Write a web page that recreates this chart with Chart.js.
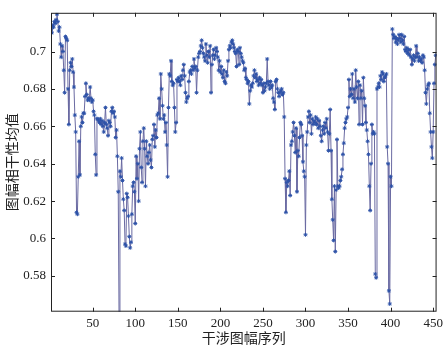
<!DOCTYPE html>
<html>
<head>
<meta charset="utf-8">
<script src="https://cdn.jsdelivr.net/npm/chart.js@4.4.1/dist/chart.umd.min.js"></script>
<style>
  html, body { margin: 0; padding: 0; background: #fff; }
  #wrap { width: 447px; height: 347px; }
</style>
</head>
<body>
<div id="wrap"><canvas id="coherenceChart" width="447" height="347"></canvas></div>
<script>
// --- DATA ---
// mean coherence for each interferogram (index 1..453)
const coherence = [
  0.712, 0.710, 0.714, 0.713, 0.716, 0.715, 0.717, 0.720, 0.716, 0.711,
  0.713, 0.704, 0.697, 0.703, 0.700, 0.690, 0.678, 0.708, 0.707, 0.706,
  0.680, 0.661, 0.690, 0.694, 0.692, 0.696, 0.689, 0.681, 0.666, 0.657,
  0.614, 0.613, 0.633, 0.652, 0.634, 0.660, 0.665, 0.662, 0.667, 0.667,
  0.676, 0.683, 0.677, 0.674, 0.675, 0.674, 0.681, 0.675, 0.673, 0.674,
  0.668, 0.666, 0.645, 0.634, 0.664, 0.664, 0.663, 0.662, 0.664, 0.661,
  0.663, 0.660, 0.657, 0.662, 0.670, 0.661, 0.659, 0.655, 0.663, 0.662,
  0.660, 0.668, 0.670, 0.667, 0.668, 0.665, 0.654, 0.658, 0.644, 0.625,
  0.555, 0.636, 0.633, 0.643, 0.631, 0.621, 0.615, 0.597, 0.596, 0.624,
  0.622, 0.612, 0.601, 0.595, 0.598, 0.613, 0.628, 0.630, 0.625, 0.608,
  0.644, 0.632, 0.640, 0.620, 0.648, 0.657, 0.638, 0.630, 0.652, 0.659,
  0.648, 0.628, 0.652, 0.644, 0.640, 0.646, 0.650, 0.642, 0.638, 0.653,
  0.655, 0.661, 0.649, 0.658, 0.654, 0.666, 0.667, 0.675, 0.664, 0.688,
  0.680, 0.671, 0.664, 0.666, 0.657, 0.662, 0.650, 0.633, 0.670, 0.688,
  0.687, 0.695, 0.684, 0.682, 0.683, 0.670, 0.657, 0.662, 0.685, 0.684,
  0.686, 0.684, 0.682, 0.687, 0.685, 0.690, 0.693, 0.687, 0.678, 0.673,
  0.675, 0.676, 0.684, 0.689, 0.690, 0.688, 0.692, 0.690, 0.696, 0.691,
  0.692, 0.678, 0.690, 0.697, 0.699, 0.700, 0.703, 0.706, 0.702, 0.699,
  0.697, 0.695, 0.704, 0.698, 0.694, 0.700, 0.697, 0.703, 0.678, 0.693,
  0.698, 0.701, 0.696, 0.698, 0.702, 0.700, 0.697, 0.690, 0.695, 0.689,
  0.692, 0.688, 0.686, 0.690, 0.684, 0.683, 0.689, 0.687, 0.695, 0.701,
  0.703, 0.702, 0.705, 0.706, 0.704, 0.702, 0.700, 0.699, 0.692, 0.701,
  0.700, 0.693, 0.702, 0.699, 0.697, 0.695, 0.694, 0.690, 0.691, 0.686,
  0.685, 0.683, 0.684, 0.672, 0.679, 0.682, 0.681, 0.683, 0.687, 0.690,
  0.686, 0.688, 0.684, 0.685, 0.682, 0.686, 0.683, 0.685, 0.682, 0.678,
  0.683, 0.679, 0.681, 0.683, 0.696, 0.684, 0.682, 0.680, 0.684, 0.681,
  0.682, 0.675, 0.673, 0.669, 0.684, 0.685, 0.680, 0.678, 0.676, 0.678,
  0.679, 0.680, 0.677, 0.678, 0.665, 0.632, 0.614, 0.630, 0.628, 0.631,
  0.636, 0.623, 0.650, 0.652, 0.657, 0.662, 0.655, 0.646, 0.659, 0.625,
  0.647, 0.644, 0.654, 0.662, 0.661, 0.655, 0.641, 0.636, 0.633, 0.602,
  0.650, 0.657, 0.665, 0.668, 0.662, 0.666, 0.656, 0.664, 0.661, 0.663,
  0.662, 0.665, 0.661, 0.664, 0.659, 0.663, 0.660, 0.655, 0.652, 0.658,
  0.660, 0.656, 0.662, 0.659, 0.664, 0.657, 0.647, 0.656, 0.669, 0.647,
  0.621, 0.610, 0.599, 0.628, 0.593, 0.626, 0.653, 0.628, 0.627, 0.628,
  0.631, 0.633, 0.637, 0.645, 0.651, 0.659, 0.662, 0.664, 0.665, 0.670,
  0.685, 0.676, 0.680, 0.677, 0.688, 0.675, 0.680, 0.673, 0.690, 0.681,
  0.675, 0.684, 0.661, 0.682, 0.675, 0.679, 0.661, 0.686, 0.675, 0.671,
  0.662, 0.658, 0.652, 0.645, 0.628, 0.615, 0.640, 0.661, 0.656, 0.657,
  0.656, 0.581, 0.579, 0.680, 0.681, 0.683, 0.681, 0.687, 0.685, 0.689,
  0.688, 0.684, 0.686, 0.687, 0.688, 0.649, 0.640, 0.572, 0.565, 0.633,
  0.628, 0.712, 0.709, 0.707, 0.708, 0.705, 0.707, 0.704, 0.706, 0.709,
  0.707, 0.705, 0.709, 0.706, 0.704, 0.708, 0.701, 0.700, 0.702, 0.699,
  0.701, 0.698, 0.701, 0.697, 0.693, 0.696, 0.698, 0.695, 0.697, 0.703,
  0.697, 0.699, 0.695, 0.697, 0.695, 0.696, 0.694, 0.698, 0.697, 0.690,
  0.678, 0.672, 0.680, 0.682, 0.683, 0.667, 0.657, 0.649, 0.643, 0.657,
  0.683, 0.693, 0.698
];

const xTicks = [50, 100, 150, 200, 250, 300, 350, 400, 450];
const yTicks = [0.58, 0.6, 0.62, 0.64, 0.66, 0.68, 0.7];
const xTitle = '干涉图幅序列';
const yTitle = '图幅相干性均值';

const points = coherence.map((v, i) => ({ x: i + 1, y: v }));

// --- FRAME + INWARD TICKS + TITLES (matlab look) ---
const matlabFrame = {
    id: 'matlabFrame',
    afterDraw(chart) {
        const { ctx, chartArea: a, scales } = chart;
        ctx.save();
        ctx.strokeStyle = '#222';
        ctx.lineWidth = 1;
        ctx.strokeRect(a.left + 0.5, a.top + 0.5, a.right - a.left - 1, a.bottom - a.top - 1);
        ctx.beginPath();
        xTicks.forEach(v => {
            let px = Math.round(scales.x.getPixelForValue(v)) + 0.5;
            ctx.moveTo(px, a.bottom); ctx.lineTo(px, a.bottom - 4);
            ctx.moveTo(px, a.top); ctx.lineTo(px, a.top + 4);
        });
        yTicks.forEach(v => {
            let py = Math.round(scales.y.getPixelForValue(v)) + 0.5;
            ctx.moveTo(a.left, py); ctx.lineTo(a.left + 4, py);
            ctx.moveTo(a.right, py); ctx.lineTo(a.right - 4, py);
        });
        ctx.stroke();

        ctx.fillStyle = '#222';
        ctx.font = '14px "Noto Sans CJK SC"';
        ctx.textAlign = 'center';
        ctx.textBaseline = 'middle';
        ctx.fillText(xTitle, (a.left + a.right) / 2, 338);
        ctx.translate(12, (a.top + a.bottom) / 2);
        ctx.rotate(-Math.PI / 2);
        ctx.fillText(yTitle, 0, 0);
        ctx.restore();
    }
};

// --- CHART ---
const ctx = document.getElementById('coherenceChart').getContext('2d');
let coherenceChart = new Chart(ctx, {
    type: 'line',
    data: {
        datasets: [{
            data: points,
            borderColor: '#6a6aa2',
            borderWidth: 1,
            pointStyle: 'star',
            pointRadius: 2,
            pointBorderWidth: 1,
            pointBorderColor: '#2d52a8',
            pointBackgroundColor: '#2d52a8',
            tension: 0
        }]
    },
    options: {
        responsive: false,
        animation: false,
        layout: { padding: { left: 0, right: 9.3, top: 5.3, bottom: 0 } },
        plugins: { legend: { display: false }, tooltip: { enabled: false } },
        scales: {
            x: {
                type: 'linear',
                min: 1,
                max: 454,
                afterBuildTicks: s => { s.ticks = xTicks.map(v => ({ value: v })); },
                afterFit: s => { s.height = 35.3; },
                grid: { display: false, drawTicks: false },
                border: { display: false },
                ticks: {
                    color: '#222',
                    padding: 4,
                    maxRotation: 0,
                    font: { family: '"Liberation Serif"', size: 13 }
                }
            },
            y: {
                min: 0.56085,
                max: 0.72071,
                afterBuildTicks: s => { s.ticks = yTicks.map(v => ({ value: v })); },
                afterFit: s => { s.width = 51; },
                grid: { display: false, drawTicks: false },
                border: { display: false },
                ticks: {
                    color: '#222',
                    padding: 5,
                    font: { family: '"Liberation Serif"', size: 13 },
                    callback: v => String(+v.toFixed(2))
                }
            }
        }
    },
    plugins: [matlabFrame]
});
</script>
</body>
</html>
